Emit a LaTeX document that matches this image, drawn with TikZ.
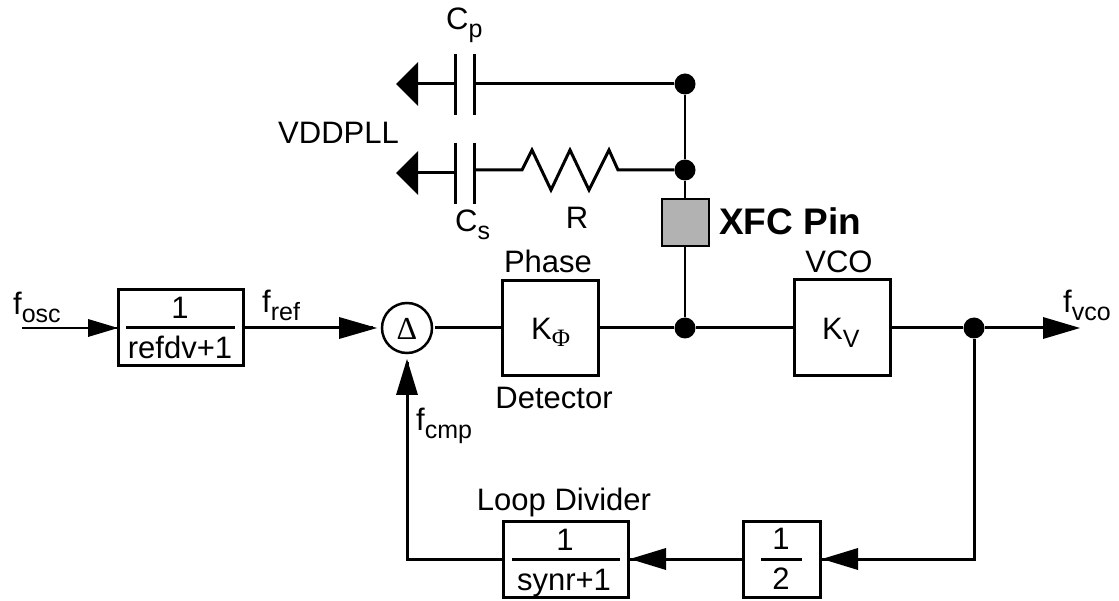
\documentclass[tikz,border=0pt]{standalone}
\usepackage{fontspec}
\setmainfont{Liberation Sans}
\newfontfamily\serifgr{Liberation Serif}
\newcommand{\fsub}[2]{#1\raisebox{-8pt}{\fontsize{25}{25}\selectfont #2}}
\begin{document}
\begin{tikzpicture}[x=1pt,y=-1pt,
  thick3/.style={line width=3pt},
  thin2/.style={line width=2pt},
  blockbox/.style={draw,line width=3pt,fill=white,minimum width=0pt,inner sep=0pt},
  dotn/.style={circle,fill=black,inner sep=0pt,minimum size=21pt},
  lab/.style={inner sep=0pt,font=\fontsize{31}{31}\selectfont}]
\useasboundingbox (0,0) rectangle (1119,601);
% nodes
\node[blockbox,minimum width=125pt,minimum height=76pt] (ref) at (181,328) {};
\node[blockbox,minimum width=96pt,minimum height=95pt] (pd) at (550,328) {};
\node[blockbox,minimum width=96pt,minimum height=96pt] (vco) at (842,328) {};
\node[blockbox,minimum width=125pt,minimum height=76pt] (syn) at (566,559) {};
\node[blockbox,minimum width=77pt,minimum height=76pt] (half) at (781.5,559) {};
\node[draw,line width=2.5pt,circle,minimum size=50pt,inner sep=0pt] (delta) at (407,328) {};
\node[font=\fontsize{32}{32}\selectfont\serifgr,inner sep=0pt,anchor=base] (dsym) at (407,340) {Δ};
\node[draw,line width=2pt,fill=black!30,minimum size=47pt,inner sep=0pt] (xfc) at (685,223) {};
\node[dotn] (d1) at (685,84) {};
\node[dotn] (d2) at (685,170) {};
\node[dotn] (d3) at (685,328) {};
\node[dotn] (d4) at (974,328) {};
% coordinates
\coordinate (in) at (22,328);
\coordinate (c1l) at (455,84); \coordinate (c1r) at (474,84);
\coordinate (c2l) at (455,173); \coordinate (c2r) at (474,170);
\coordinate (g1) at (418,84); \coordinate (g2) at (418,173);
\coordinate (out) at (1043,328);
\coordinate (fb) at (974,559);
\coordinate (corner) at (407,559);
% wires
\draw[thin2] (in) -- (ref.west);
\draw[thick3,shorten >=8pt] (ref.east) -- (delta.west);
\draw[thick3,shorten <=2pt] (delta.east) -- (pd.west);
\draw[thick3] (pd.east) -- (d3) -- (vco.west);
\draw[thick3] (vco.east) -- (d4) -- (out);
\draw[thick3] (d4) -- (fb) -- (half.east);
\draw[thick3] (half.west) -- (syn.east);
\draw[thick3,shorten >=8pt] (syn.west) -- (corner) -- (delta.south);
\draw[thin2] (d1) -- (d2) -- (xfc.north);
\draw[thin2] (xfc.south) -- (d3);
% capacitors
\draw[thick3] (g1) -- (c1l);
\draw[thick3] (g2) -- (c2l);
\draw[thick3] (c1r) -- (d1);
\draw[thick3] (455,54) -- (455,115);
\draw[thick3] (474,54) -- (474,115);
\draw[thick3] (455,143) -- (455,204);
\draw[thick3] (474,143) -- (474,204);
% resistor
\draw[thick3,line join=miter] (c2r) -- (522,170) -- (532,150) -- (551,190) -- (570,150) -- (589,190) -- (609,150) -- (618,170) -- (d2);
% arrow heads
\fill (396,84) -- (418,62) -- (418,106) -- cycle;
\fill (396,173) -- (418,151) -- (418,195) -- cycle;
\fill (118,328) -- (88,319) -- (88,337) -- cycle;
\fill (377,328) -- (339,317) -- (339,339) -- cycle;
\fill (407,359) -- (396,395) -- (418,395) -- cycle;
\fill (1080,328) -- (1043,317) -- (1043,339) -- cycle;
\fill (630,559) -- (666,548) -- (666,570) -- cycle;
\fill (822,559) -- (858,548) -- (858,570) -- cycle;
% fraction bars
\draw[thick3] (126,328) -- (235,328);
\draw[thick3] (512,559) -- (620,559);
\draw[thick3] (761,559) -- (802,559);
% labels
\node[lab,anchor=base] (t1) at (180,319) {1};
\node[lab,anchor=base] (t2) at (180,359) {refdv+1};
\node[lab,anchor=base] (t3) at (565,550) {1};
\node[lab,anchor=base] (t4) at (564,590) {synr+1};
\node[lab,anchor=base] (t5) at (781,549) {1};
\node[lab,anchor=base] (t6) at (781,589) {2};
\node[lab,anchor=base] (loop) at (564,510) {Loop Divider};
\node[lab,anchor=base] (ph) at (548,273) {Phase};
\node[lab,anchor=base] (det) at (554,408) {Detector};
\node[lab,anchor=base] (vl) at (839,273) {VCO};
\node[lab,anchor=base west] (vdd) at (278,144) {VDDPLL};
\node[lab,anchor=base] (rl) at (577,229) {R};
\node[lab,anchor=base west,font=\bfseries\fontsize{37}{37}\selectfont] (xl) at (719,235) {XFC Pin};
\node[lab,anchor=base west] (cp) at (446,30) {\fsub{C}{p}};
\node[lab,anchor=base west] (cs) at (455,232) {\fsub{C}{s}};
\node[lab,anchor=base west] (fo) at (13,315) {\fsub{f}{osc}};
\node[lab,anchor=base west] (fr) at (262,313) {\fsub{f}{ref}};
\node[lab,anchor=base west] (fc) at (416,430) {\fsub{f}{cmp}};
\node[lab,anchor=base west] (fv) at (1063,313) {\fsub{f}{vco}};
\node[lab,anchor=base west] (kp) at (531,340) {K\raisebox{-7pt}{\fontsize{25}{25}\selectfont\serifgr Φ}};
\node[lab,anchor=base west] (kv) at (822,340) {\fsub{K}{V}};
\end{tikzpicture}
\end{document}
